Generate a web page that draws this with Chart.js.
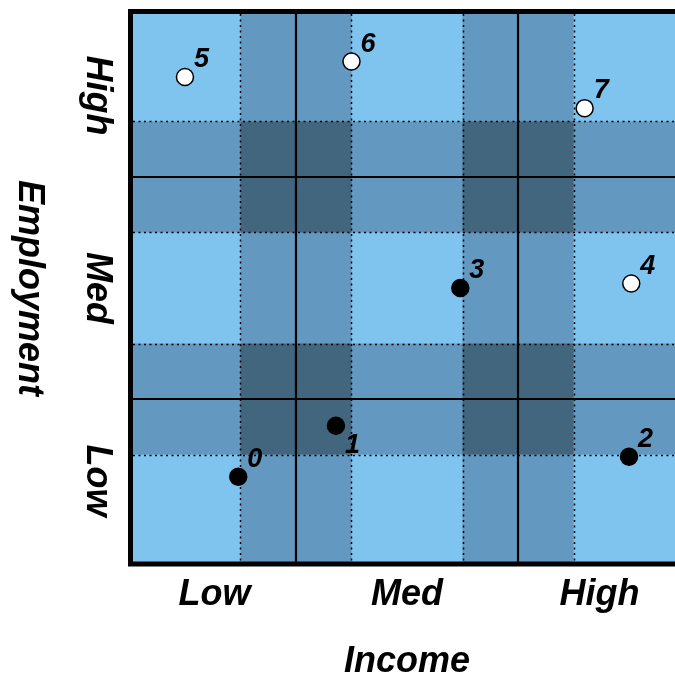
<!DOCTYPE html>
<html>
<head>
<meta charset="utf-8">
<script src="https://cdn.jsdelivr.net/npm/chart.js@4.4.1/dist/chart.umd.min.js"></script>
<style>
  html, body { margin: 0; padding: 0; overflow: hidden; background: #ffffff; }
  #wrap { width: 681px; height: 681px; position: relative; }
</style>
</head>
<body>
<div id="wrap"><canvas id="c" width="681" height="681"></canvas></div>
<script>
// ---- data ----
const categories = ['Low', 'Med', 'High'];
const tickValues = [0.633, 1.5, 2.367];
const dividers = [1, 2];
const bandEdges = [0.75, 1.25, 1.75, 2.25];
const bands = [[0.75, 1.25], [1.75, 2.25]];
const axisMin = 0.266;
const axisMax = 2.734;

const pointIds = ['0', '1', '2', '3', '4', '5', '6', '7'];
const incomeValues = [0.74, 1.18, 2.50, 1.74, 2.51, 0.50, 1.25, 2.30];
const employmentValues = [0.65, 0.88, 0.74, 1.50, 1.52, 2.45, 2.52, 2.31];
const pointFilled = [true, true, true, true, false, false, false, false];
const labelBelow = [false, true, false, false, false, false, false, false];

const xTitle = 'Income';
const yTitle = 'Employment';

// ---- styles ----
const FONT = '"Liberation Sans", Arial, sans-serif';
const COL_LIGHT = '#7fc3ef';
const COL_MID = '#6399c0';
const COL_DARK = '#43667f';

const points = incomeValues.map((x, i) => ({ x: x, y: employmentValues[i] }));

const backgroundPlugin = {
  id: 'background',
  beforeDatasetsDraw(chart) {
    const { ctx, chartArea: a, scales: { x, y } } = chart;
    ctx.save();
    ctx.fillStyle = COL_LIGHT;
    ctx.fillRect(a.left, a.top, a.right - a.left, a.bottom - a.top);
    ctx.fillStyle = COL_MID;
    bands.forEach(([b0, b1]) => {
      const x0 = x.getPixelForValue(b0), x1 = x.getPixelForValue(b1);
      ctx.fillRect(x0, a.top, x1 - x0, a.bottom - a.top);
      const y0 = y.getPixelForValue(b1), y1 = y.getPixelForValue(b0);
      ctx.fillRect(a.left, y0, a.right - a.left, y1 - y0);
    });
    ctx.fillStyle = COL_DARK;
    bands.forEach(([xb0, xb1]) => {
      bands.forEach(([yb0, yb1]) => {
        const x0 = x.getPixelForValue(xb0), x1 = x.getPixelForValue(xb1);
        const y0 = y.getPixelForValue(yb1), y1 = y.getPixelForValue(yb0);
        ctx.fillRect(x0, y0, x1 - x0, y1 - y0);
      });
    });
    ctx.strokeStyle = '#000';
    ctx.lineWidth = 1.5;
    ctx.setLineDash([2, 3.5]);
    bandEdges.forEach(v => {
      const px = Math.round(x.getPixelForValue(v)) + 0.5;
      ctx.beginPath(); ctx.moveTo(px, a.top); ctx.lineTo(px, a.bottom); ctx.stroke();
      const py = Math.round(y.getPixelForValue(v)) + 0.5;
      ctx.beginPath(); ctx.moveTo(a.left, py); ctx.lineTo(a.right, py); ctx.stroke();
    });
    ctx.setLineDash([]);
    ctx.strokeStyle = '#000';
    ctx.lineWidth = 2.2;
    dividers.forEach(v => {
      const px = x.getPixelForValue(v);
      ctx.beginPath(); ctx.moveTo(px, a.top); ctx.lineTo(px, a.bottom); ctx.stroke();
      const py = y.getPixelForValue(v);
      ctx.beginPath(); ctx.moveTo(a.left, py); ctx.lineTo(a.right, py); ctx.stroke();
    });
    ctx.lineWidth = 5;
    ctx.beginPath();
    ctx.moveTo(a.right + 10, a.top - 2.5);
    ctx.lineTo(a.left - 2.5, a.top - 2.5);
    ctx.lineTo(a.left - 2.5, a.bottom + 2);
    ctx.lineTo(a.right + 10, a.bottom + 2);
    ctx.stroke();
    ctx.restore();
  },
  afterDatasetsDraw(chart) {
    const { ctx } = chart;
    const meta = chart.getDatasetMeta(0);
    ctx.save();
    ctx.fillStyle = '#000';
    ctx.font = 'bold italic 27px ' + FONT;
    ctx.textAlign = 'left';
    ctx.textBaseline = 'alphabetic';
    meta.data.forEach((el, i) => {
      const dy = labelBelow[i] ? 27 : -10;
      ctx.fillText(pointIds[i], el.x + 9, el.y + dy);
    });
    ctx.restore();
  },
  afterDraw(chart) {
    const { ctx, scales: { y } } = chart;
    ctx.save();
    ctx.fillStyle = '#000';
    ctx.font = 'bold italic 36px ' + FONT;
    ctx.textAlign = 'center';
    ctx.textBaseline = 'alphabetic';
    tickValues.forEach((v, i) => {
      ctx.save();
      ctx.translate(87, y.getPixelForValue(v));
      ctx.rotate(Math.PI / 2);
      ctx.fillText(categories[i], 0, 0);
      ctx.restore();
    });
    ctx.save();
    ctx.translate(19, y.getPixelForValue(1.5));
    ctx.rotate(Math.PI / 2);
    ctx.fillText(yTitle, 0, 0);
    ctx.restore();
    ctx.restore();
  }
};

new Chart(document.getElementById('c'), {
  type: 'scatter',
  data: {
    datasets: [{
      data: points,
      pointRadius: 8.5,
      pointBorderWidth: 1.5,
      pointBorderColor: '#000',
      pointBackgroundColor: pointFilled.map(f => f ? '#000' : '#fff'),
      pointHoverRadius: 8.5
    }]
  },
  options: {
    responsive: false,
    animation: false,
    events: [],
    layout: { autoPadding: false, padding: { top: 14, left: 0, right: 0, bottom: 0 } },
    plugins: { legend: { display: false }, tooltip: { enabled: false } },
    scales: {
      x: {
        type: 'linear',
        min: axisMin,
        max: axisMax,
        grid: { display: false, drawTicks: false },
        border: { display: false },
        afterBuildTicks(scale) { scale.ticks = tickValues.map(v => ({ value: v })); },
        afterFit(scale) {
          scale.height = 119;
          scale.paddingLeft = 0; scale.paddingRight = 0;
          scale.paddingTop = 0; scale.paddingBottom = 0;
        },
        ticks: {
          padding: 11,
          maxRotation: 0,
          minRotation: 0,
          autoSkip: false,
          color: '#000',
          font: { family: FONT, size: 36, weight: 'bold', style: 'italic' },
          callback: (value, index) => categories[index]
        },
        title: {
          display: true,
          text: xTitle,
          color: '#000',
          padding: { top: 0, bottom: -3 },
          font: { family: FONT, size: 36, weight: 'bold', style: 'italic' }
        }
      },
      y: {
        type: 'linear',
        min: axisMin,
        max: axisMax,
        grid: { display: false, drawTicks: false },
        border: { display: false },
        ticks: { display: false },
        afterFit(scale) {
          scale.width = 133;
          scale.paddingLeft = 0; scale.paddingRight = 0;
          scale.paddingTop = 0; scale.paddingBottom = 0;
        }
      }
    }
  },
  plugins: [backgroundPlugin]
});
</script>
</body>
</html>
